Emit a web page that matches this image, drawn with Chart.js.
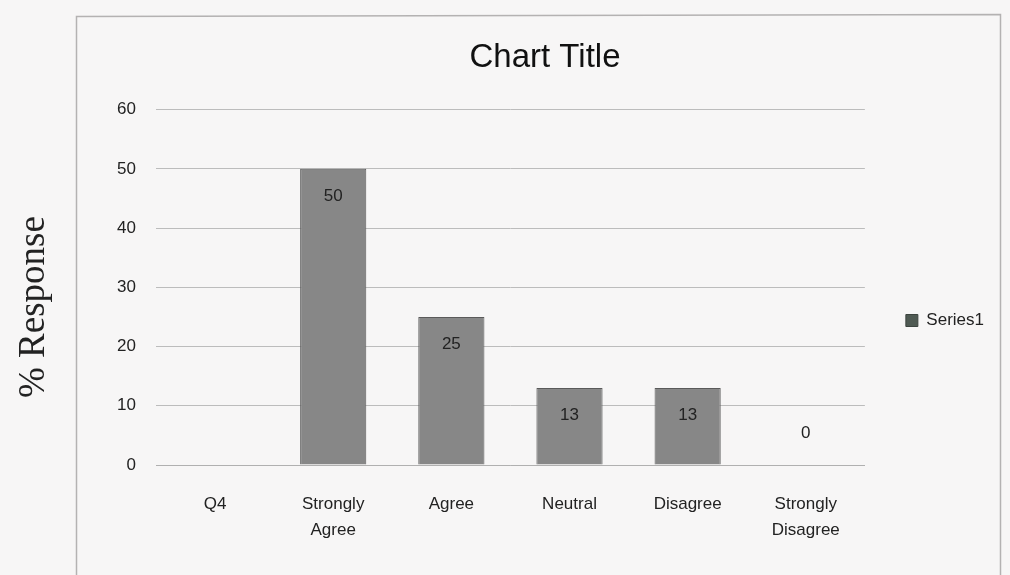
<!DOCTYPE html>
<html>
<head>
<meta charset="utf-8">
<script src="https://cdn.jsdelivr.net/npm/chart.js@4"></script>
<style>
  html, body { margin: 0; padding: 0; background: #f7f6f6; }
  #wrap { width: 1010px; height: 575px; }
</style>
</head>
<body>
<div id="wrap"><canvas id="chart" width="1010" height="575"></canvas></div>
<script>
// data
const categories = ['Q4', ['Strongly', 'Agree'], 'Agree', 'Neutral', 'Disagree', ['Strongly', 'Disagree']];
const responses = [null, 50, 25, 13, 13, 0];
const yMin = 0, yMax = 60, yStep = 10;
const seriesName = 'Series1';
const axisTitle = '% Response';

const sansFont = "'Liberation Sans', Arial, sans-serif";

// outer chart frame + y title sitting outside it (like the scan)
const framePlugin = {
    id: 'frame',
    beforeDraw(chart) {
        const c = chart.ctx;
        c.save();
        c.strokeStyle = '#b4b2b2';
        c.lineWidth = 1.5;
        c.beginPath();
        c.moveTo(76.5, 580);
        c.lineTo(76.5, 16.5);
        c.lineTo(1000.5, 14.5);
        c.lineTo(1000.5, 580);
        c.stroke();
        c.translate(34, 307);
        c.rotate(-Math.PI / 2);
        c.fillStyle = '#222';
        c.font = "37px 'Liberation Serif', 'DejaVu Serif', serif";
        c.textAlign = 'center';
        c.textBaseline = 'middle';
        c.fillText(axisTitle, 0, 0);
        c.restore();
    }
};

// value labels at the inside end of each bar
const valueLabels = {
    id: 'valueLabels',
    afterDatasetsDraw(chart) {
        const c = chart.ctx;
        const meta = chart.getDatasetMeta(0);
        c.save();
        c.font = '17px ' + sansFont;
        c.fillStyle = '#222';
        c.textAlign = 'center';
        c.textBaseline = 'middle';
        meta.data.forEach((bar, i) => {
            const v = responses[i];
            if (v === null) return;
            const h = bar.base - bar.y;
            const y = h < 40 ? bar.base - 32 : bar.y + 27;
            c.fillText(String(v), bar.x, y);
        });
        c.restore();
    }
};

new Chart(document.getElementById('chart'), {
    type: 'bar',
    data: {
        labels: categories,
        datasets: [{
            label: seriesName,
            data: responses,
            backgroundColor: '#878787',
            borderColor: '#5a5a5a',
            borderWidth: 1,
            categoryPercentage: 1,
            barPercentage: 0.56
        }]
    },
    options: {
        responsive: false,
        animation: false,
        layout: {
            padding: { left: 96, right: 16, top: 38, bottom: 0 }
        },
        plugins: {
            title: {
                display: true,
                text: 'Chart Title',
                color: '#111',
                font: { family: sansFont, size: 33, weight: 'normal' },
                padding: { top: 0, bottom: 32 }
            },
            legend: {
                position: 'right',
                title: {
                    display: true,
                    text: ' ',
                    font: { size: 10 },
                    padding: { top: 0, bottom: 16 }
                },
                labels: {
                    color: '#222',
                    font: { family: sansFont, size: 17 },
                    boxWidth: 12,
                    boxHeight: 12,
                    padding: 41,
                    generateLabels: () => [{
                        text: seriesName,
                        fontColor: '#222',
                        fillStyle: '#4f5a53',
                        strokeStyle: '#3c443f',
                        lineWidth: 1
                    }]
                }
            },
            tooltip: { enabled: false }
        },
        scales: {
            x: {
                grid: { display: false },
                border: { color: '#b0b0b0' },
                ticks: {
                    color: '#222',
                    font: { family: sansFont, size: 17, lineHeight: 1.55 },
                    padding: 18,
                    maxRotation: 0,
                    autoSkip: false
                },
                afterFit: s => { s.height = 110; }
            },
            y: {
                min: yMin,
                max: yMax,
                ticks: {
                    stepSize: yStep,
                    color: '#222',
                    font: { family: sansFont, size: 17 },
                    padding: 20
                },
                grid: { color: '#bcbcbc', drawTicks: false },
                border: { display: false },
                afterFit: s => { s.width = 60; }
            }
        }
    },
    plugins: [framePlugin, valueLabels]
});
</script>
</body>
</html>
